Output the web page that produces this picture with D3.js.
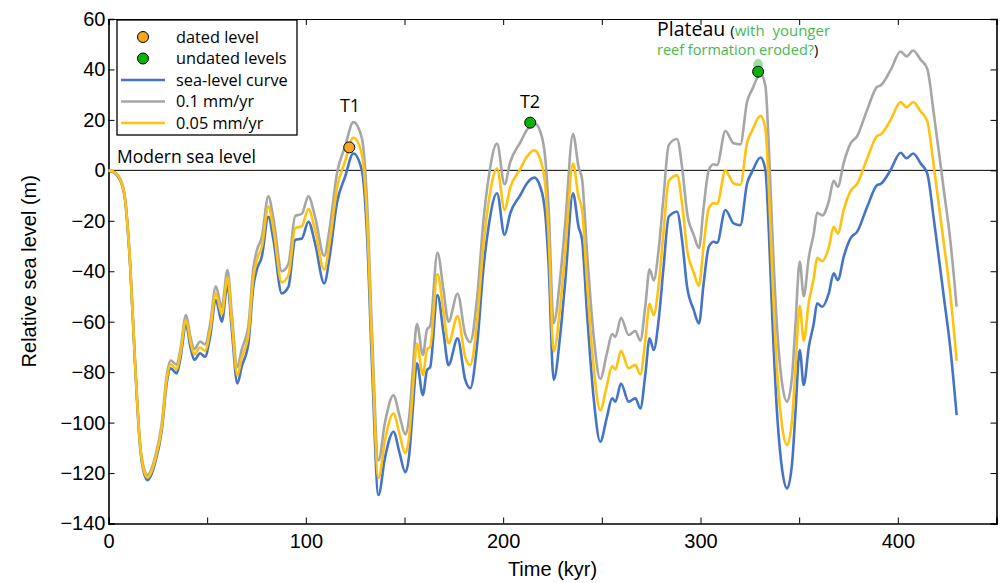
<!DOCTYPE html>
<html>
<head>
<meta charset="utf-8">
<script src="https://cdn.jsdelivr.net/npm/d3@7"></script>
<style>
  body { margin: 0; background: #fff; }
  .tick text { font-family: "Liberation Sans", Arial, sans-serif; font-size: 20px; fill: #000; }
  .ann { font-family: "Open Sans", "Noto Sans", sans-serif; fill: #000; }
</style>
</head>
<body>
<div id="vis"></div>
<script>
// time in kyr
var time = [0, 3, 6, 8.4, 10.9, 13.4, 16, 18, 19.9, 21.5, 23.6, 27, 29.5, 31.5, 34.6, 36.3, 39.3, 41.5, 43.5, 46.4,
  48.9, 51.5, 54.4, 57.4, 60.3, 62.5, 65.3, 67.5, 70.9, 73.4, 75.1, 77.7, 81, 83.6, 87.8, 91.2, 94.6, 98, 101.3, 104.7,
  109.3, 112.3, 115.7, 119.9, 124.1, 128.4, 130.9, 133.5, 136.8, 140.2, 144.4, 147.5, 150.4, 152.5, 154, 156.3, 159.3, 161.4, 163, 166.7,
  169.8, 172.3, 176.9, 180.8, 183.3, 186.7, 190.1, 192.6, 196.9, 200.7, 203.6, 208.7, 212, 215.8, 218.8, 221.3, 223, 225.6, 229, 231.5,
  235.4, 238.2, 240, 242.5, 245.8, 249.2, 252.6, 255.2, 256.9, 259.7, 263.6, 267, 269.5, 272.1, 274.2, 276.3, 278.8, 281.3, 283.9, 288.1,
  290.7, 293.2, 296.6, 299.2, 301.6, 304.2, 306.7, 308.4, 312.6, 316.8, 320.2, 323.6, 326.2, 330.4, 332.9, 334.6, 336.3, 338.8, 341.4, 343.9,
  346.4, 348.1, 350.3, 352.3, 354.9, 357.4, 359.1, 361.7, 365, 367.5, 369.6, 372.6, 376, 379.4, 384.5, 389.6, 391.3, 396.3, 401.4, 404.4,
  407.8, 411.5, 414.9, 418.3, 423.3, 426.7, 429.8];

// sea-level curve (m)
var seaLevel = [0, -1, -4, -11.8, -36.8, -76, -109.6, -120, -122.8, -121, -116, -103, -84.4, -78.5, -80.5, -75.2, -61.3, -70, -75.2, -72.5,
  -73.9, -66, -51.4, -60, -45.5, -63.3, -84.5, -77.8, -68.6, -46.1, -39.5, -34.2, -18.4, -27.6, -48.8, -46.1, -27.6, -27, -20.4, -29,
  -44.8, -32.9, -13.1, -2.5, 6.7, 0, -23.7, -76.5, -128.7, -113.5, -103.6, -112, -119.7, -112, -97, -76.5, -89.1, -79.2, -78, -49.4,
  -64.6, -77.2, -66.6, -83.1, -86.4, -69.9, -38.2, -22.4, -9.1, -25.6, -17, -9.8, -5.2, -2.9, -6.5, -17, -36.9, -83.1, -64.6, -43.5,
  -9.1, -22.4, -27.6, -56.7, -89.8, -107.6, -97.7, -90.4, -91.7, -84.5, -91.7, -90.4, -94.4, -80.5, -66.6, -71.2, -59.3, -38.2, -18.4, -16.4,
  -28, -46.1, -55.4, -60.7, -44.8, -30.3, -28.3, -28.7, -15.7, -21, -21.7, -5.2, -0.5, 5.1, 0.1, -23.7, -56.7, -96.3, -118.8, -126.1,
  -116.2, -96.3, -71.2, -85.1, -69.9, -60.7, -52.7, -54.1, -48.8, -40.8, -43.5, -34.2, -27, -24.3, -14.4, -5.8, -5.4, 0.1, 7, 4.8,
  6.7, 2.8, -1.2, -19.7, -50.1, -71.2, -97];

// 0.1 mm/yr uplift curve (m)
var uplift01 = [0, -0.7, -3.4, -11.0, -35.7, -74.7, -108.0, -118.2, -120.8, -118.9, -113.6, -100.3, -81.4, -75.4, -77.0, -71.6, -57.4, -65.9, -70.9, -67.9,
  -69.0, -60.9, -46.0, -54.3, -39.5, -57.1, -78.0, -71.1, -61.5, -38.8, -32.0, -26.4, -10.3, -19.2, -40.0, -37.0, -18.1, -17.2, -10.3, -18.5,
  -33.9, -21.7, -1.5, 9.5, 19.1, 12.8, -10.6, -63.1, -115.0, -99.5, -89.2, -97.3, -104.7, -96.8, -81.6, -60.9, -73.2, -63.1, -61.7, -32.7,
  -47.6, -60.0, -48.9, -65.0, -68.1, -51.2, -19.2, -3.1, 10.6, -5.5, 3.4, 11.1, 16.0, 18.7, 15.4, 5.1, -14.6, -60.5, -41.7, -20.4,
  14.4, 1.4, -3.6, -32.5, -65.2, -82.7, -72.4, -64.9, -66.0, -58.5, -65.3, -63.7, -67.5, -53.3, -39.2, -43.6, -31.4, -10.1, 10.0, 12.4,
  1.1, -16.8, -25.7, -30.8, -14.6, 0.1, 2.4, 2.1, 15.6, 10.7, 10.3, 27.2, 32.1, 38.1, 33.4, 9.8, -23.1, -62.4, -84.7, -91.7,
  -81.6, -61.5, -36.2, -49.9, -34.4, -25.0, -16.8, -17.9, -12.3, -4.1, -6.5, 3.1, 10.6, 13.6, 24.1, 33.2, 33.7, 39.7, 47.1, 45.2,
  47.5, 43.9, 40.3, 22.1, -7.8, -28.5, -54.0];

// 0.05 mm/yr uplift curve (m)
var uplift005 = [0, -0.8, -3.7, -11.4, -36.3, -75.3, -108.8, -119.1, -121.8, -119.9, -114.8, -101.7, -82.9, -76.9, -78.8, -73.4, -59.3, -67.9, -73.0, -70.2,
  -71.5, -63.4, -48.7, -57.1, -42.5, -60.2, -81.2, -74.4, -65.1, -42.4, -35.7, -30.3, -14.4, -23.4, -44.4, -41.5, -22.9, -22.1, -15.3, -23.8,
  -39.3, -27.3, -7.3, 3.5, 12.9, 6.4, -17.2, -69.8, -121.9, -106.5, -96.4, -104.6, -112.2, -104.4, -89.3, -68.7, -81.1, -71.1, -69.9, -41.1,
  -56.1, -68.6, -57.8, -74.1, -77.2, -60.6, -28.7, -12.8, 0.7, -15.6, -6.8, 0.6, 5.4, 7.9, 4.4, -5.9, -25.8, -71.8, -53.1, -31.9,
  2.7, -10.5, -15.6, -44.6, -77.5, -95.1, -85.1, -77.6, -78.9, -71.5, -78.5, -77.1, -80.9, -66.9, -52.9, -57.4, -45.4, -24.1, -4.2, -2.0,
  -13.5, -31.4, -40.6, -45.7, -29.7, -15.1, -13.0, -13.3, -0.1, -5.2, -5.7, 11.0, 15.8, 21.6, 16.7, -7.0, -39.9, -79.4, -101.7, -108.9,
  -98.9, -78.9, -53.7, -67.5, -52.2, -42.8, -34.7, -36.0, -30.6, -22.4, -25.0, -15.6, -8.2, -5.3, 4.8, 13.7, 14.2, 19.9, 27.1, 25.0,
  27.1, 23.4, 19.5, 1.2, -28.9, -49.9, -75.5];

// dated / undated terrace levels
var datedT = [122];
var datedY = [9.1];
var undatedT = [213.7, 329.2];
var undatedY = [18.9, 39.1];

var xTicks = [0, 50, 100, 150, 200, 250, 300, 350, 400, 450];
var yTicks = [-140, -120, -100, -80, -60, -40, -20, 0, 20, 40, 60];

var legendLabels = ["dated level", "undated levels", "sea-level curve", "0.1 mm/yr", "0.05 mm/yr"];

var BLUE = "#4574c7", GREY = "#a6a6a6", YELLOW = "#ffc20e", ORANGE = "#f8a61e", GREEN = "#0bb20b";

var width = 1001, height = 583;
var svg = d3.select("#vis").append("svg")
    .attr("width", width)
    .attr("height", height);

var x = d3.scaleLinear().domain([0, 450]).range([108.5, 996.5]);
var y = d3.scaleLinear().domain([-140, 60]).range([523.5, 19]);

// axes, ticks inside
svg.append("g")
    .attr("transform", "translate(0," + y(-140) + ")")
    .call(d3.axisBottom(x).tickValues(xTicks).tickSize(-6).tickPadding(10)
        .tickFormat(function(d) { return d % 100 === 0 ? d : ""; }))
    .call(function(g) { g.select(".domain").attr("stroke-width", 1.6); });

svg.append("g")
    .attr("transform", "translate(0," + y(60) + ")")
    .call(d3.axisTop(x).tickValues(xTicks).tickSize(-6).tickFormat(""))
    .call(function(g) { g.select(".domain").attr("stroke-width", 1.2); });

svg.append("g")
    .attr("transform", "translate(" + x(0) + ",0)")
    .call(d3.axisLeft(y).tickValues(yTicks).tickSize(-6).tickPadding(3)
        .tickFormat(function(d) { return d < 0 ? "\u2212" + Math.abs(d) : d; }))
    .call(function(g) { g.select(".domain").attr("stroke-width", 1.6); });

svg.append("g")
    .attr("transform", "translate(" + x(450) + ",0)")
    .call(d3.axisRight(y).tickValues(yTicks).tickSize(-6).tickFormat(""))
    .call(function(g) { g.select(".domain").attr("stroke-width", 1.6); });

svg.selectAll(".tick line").attr("stroke-width", 1);

// modern sea level
svg.append("line")
    .attr("x1", x(0)).attr("x2", x(450))
    .attr("y1", y(0)).attr("y2", y(0))
    .attr("stroke", "#000").attr("stroke-width", 1);

// curves
function lineFor(vals) {
    return d3.line()
        .x(function(d, i) { return x(time[i]); })
        .y(function(d) { return y(d); })
        .curve(d3.curveMonotoneX)(vals);
}
[[uplift01, GREY], [seaLevel, BLUE], [uplift005, YELLOW]].forEach(function(s) {
    svg.append("path")
        .attr("d", lineFor(s[0]))
        .attr("fill", "none")
        .attr("stroke", s[1])
        .attr("stroke-width", 2.6)
        .attr("stroke-linejoin", "round");
});

// glow above plateau level
svg.append("ellipse")
    .attr("cx", x(undatedT[1])).attr("cy", y(undatedY[1]) - 6)
    .attr("rx", 5).attr("ry", 7)
    .attr("fill", "#8fd88f").attr("opacity", 0.85);

svg.selectAll("circle.dated")
    .data(datedT)
    .enter().append("circle")
    .attr("class", "dated")
    .attr("cx", function(d) { return x(d); })
    .attr("cy", function(d, i) { return y(datedY[i]); })
    .attr("r", 5.5)
    .attr("fill", ORANGE).attr("stroke", "#000").attr("stroke-width", 1);

svg.selectAll("circle.undated")
    .data(undatedT)
    .enter().append("circle")
    .attr("class", "undated")
    .attr("cx", function(d) { return x(d); })
    .attr("cy", function(d, i) { return y(undatedY[i]); })
    .attr("r", 5.5)
    .attr("fill", GREEN).attr("stroke", "#000").attr("stroke-width", 1);

// annotations
svg.append("text").attr("class", "ann").attr("x", 117).attr("y", 163)
    .attr("font-size", 17.5).text("Modern sea level");
svg.append("text").attr("class", "ann").attr("x", 350).attr("y", 112)
    .attr("font-size", 18).attr("text-anchor", "middle").text("T1");
svg.append("text").attr("class", "ann").attr("x", 530).attr("y", 108)
    .attr("font-size", 18).attr("text-anchor", "middle").text("T2");

var plat = svg.append("text").attr("class", "ann").attr("x", 657).attr("y", 36);
plat.append("tspan").attr("font-size", 19.5).text("Plateau ");
plat.append("tspan").attr("font-size", 15).text("(");
plat.append("tspan").attr("font-size", 15).attr("fill", "#45b94f").text("with\u00a0 younger");
var plat2 = svg.append("text").attr("class", "ann").attr("x", 657).attr("y", 55).attr("font-size", 14.5);
plat2.append("tspan").attr("fill", "#45b94f").text("reef formation eroded?");
plat2.append("tspan").text(")");

// legend
var lg = svg.append("g");
lg.append("rect")
    .attr("x", 117).attr("y", 20).attr("width", 180).attr("height", 115)
    .attr("fill", "#fff").attr("stroke", "#000").attr("stroke-width", 1.3);

var legendRows = d3.scaleLinear().domain([0, 4]).range([37, 123]);
lg.selectAll("text")
    .data(legendLabels)
    .enter().append("text")
    .attr("class", "ann")
    .attr("x", 176)
    .attr("y", function(d, i) { return legendRows(i) + 5.5; })
    .attr("font-size", 16.3)
    .text(function(d) { return d; });

lg.append("circle").attr("cx", 143).attr("cy", legendRows(0)).attr("r", 5.5)
    .attr("fill", ORANGE).attr("stroke", "#000");
lg.append("circle").attr("cx", 143).attr("cy", legendRows(1)).attr("r", 5.5)
    .attr("fill", GREEN).attr("stroke", "#000");
[BLUE, GREY, YELLOW].forEach(function(c, i) {
    lg.append("line")
        .attr("x1", 121).attr("x2", 165)
        .attr("y1", legendRows(i + 2)).attr("y2", legendRows(i + 2))
        .attr("stroke", c).attr("stroke-width", 2.6);
});

// axis titles
svg.append("text")
    .attr("transform", "translate(36," + ((y(60) + y(-140)) / 2) + ") rotate(-90)")
    .attr("text-anchor", "middle")
    .attr("font-family", "Liberation Sans, Arial, sans-serif")
    .attr("font-size", 20)
    .text("Relative sea level (m)");

svg.append("text")
    .attr("x", (x(0) + x(450)) / 2)
    .attr("y", 576)
    .attr("text-anchor", "middle")
    .attr("font-family", "Liberation Sans, Arial, sans-serif")
    .attr("font-size", 20)
    .text("Time (kyr)");
</script>
</body>
</html>
